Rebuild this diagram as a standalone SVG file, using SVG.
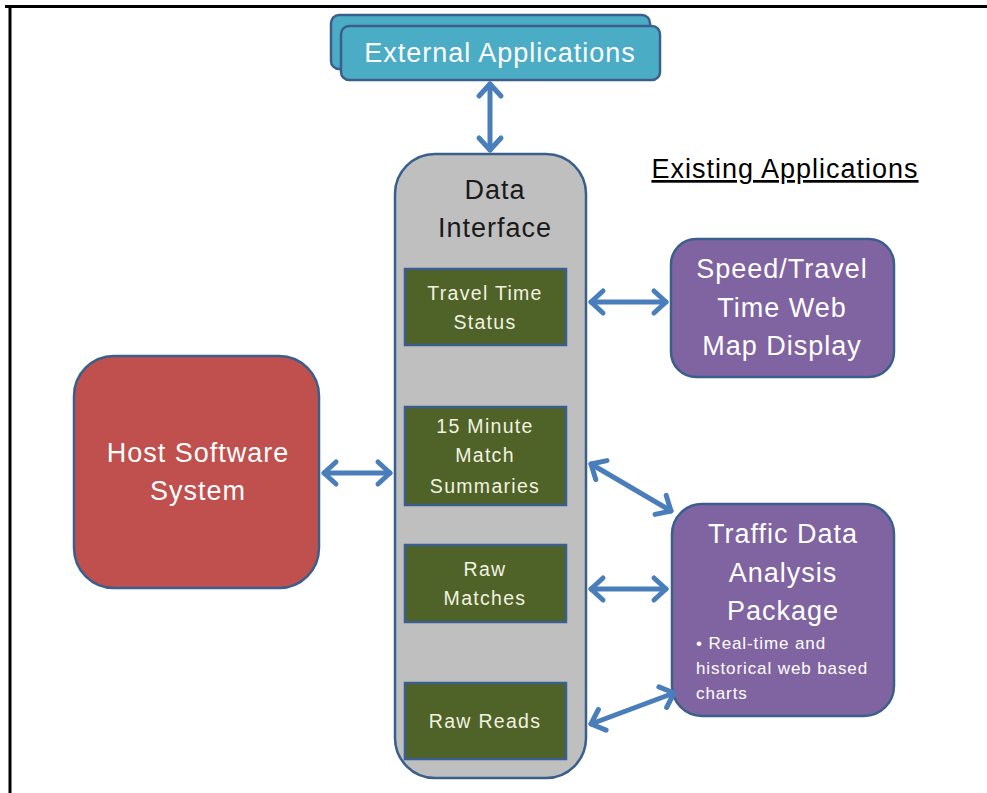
<svg xmlns="http://www.w3.org/2000/svg" width="987" height="793" viewBox="0 0 987 793">
<style>
.t{font-family:"Liberation Sans","DejaVu Sans",sans-serif;text-anchor:middle}
.w{fill:#ffffff}
.big{font-size:27px;letter-spacing:1px}
.sm{font-size:19.5px;letter-spacing:1.3px;fill:#f2f2e0}
.bul{font-size:17px;letter-spacing:0.9px;fill:#ffffff;text-anchor:start}
.box{stroke:#3A5F8C;stroke-width:2.5}
.con{stroke:#4A7EBB;stroke-width:5;fill:none;stroke-linecap:round;marker-start:url(#ah);marker-end:url(#ah)}
</style>
<defs>
<marker id="ah" markerUnits="userSpaceOnUse" viewBox="-16 -14 20 28" markerWidth="20" markerHeight="28" refX="0" refY="0" orient="auto-start-reverse" overflow="visible">
<path d="M-12,-11 L0,0 L-12,11" fill="none" stroke="#4A7EBB" stroke-width="5" stroke-linecap="round" stroke-linejoin="round"/>
</marker>
</defs>
<rect width="987" height="793" fill="#ffffff"/>
<line x1="5" y1="6.5" x2="987" y2="6.5" stroke="#000" stroke-width="3"/>
<line x1="10" y1="5" x2="10" y2="793" stroke="#000" stroke-width="3"/>

<g id="external">
<rect class="box" x="331" y="15" width="319" height="54" rx="8" fill="#4BACC6"/>
<rect class="box" x="341" y="26" width="319" height="54" rx="8" fill="#4BACC6"/>
<text class="t w big" x="500" y="62">External Applications</text>
</g>

<g id="data-interface">
<rect class="box" x="395" y="154" width="191" height="624" rx="40" fill="#BFBFBF"/>
<text class="t big" x="495" y="199" fill="#1a1a1a">Data</text>
<text class="t big" x="495" y="237" fill="#1a1a1a">Interface</text>
</g>

<g id="travel-time-status">
<rect class="box" x="405" y="269" width="161" height="76" fill="#4F6228"/>
<text class="t sm" x="485" y="300">Travel Time</text>
<text class="t sm" x="485" y="329">Status</text>
</g>

<g id="match-summaries">
<rect class="box" x="405" y="407" width="161" height="98" fill="#4F6228"/>
<text class="t sm" x="485" y="433">15 Minute</text>
<text class="t sm" x="485" y="462">Match</text>
<text class="t sm" x="485" y="493">Summaries</text>
</g>

<g id="raw-matches">
<rect class="box" x="405" y="545" width="161" height="77" fill="#4F6228"/>
<text class="t sm" x="485" y="576">Raw</text>
<text class="t sm" x="485" y="605">Matches</text>
</g>

<g id="raw-reads">
<rect class="box" x="405" y="683" width="161" height="76" fill="#4F6228"/>
<text class="t sm" x="485" y="728">Raw Reads</text>
</g>

<g id="host">
<rect class="box" x="74" y="356" width="245" height="232" rx="40" fill="#C0504D"/>
<text class="t w big" x="198" y="462">Host Software</text>
<text class="t w big" x="198" y="500">System</text>
</g>

<g id="speed-map">
<rect class="box" x="671" y="239" width="223" height="138" rx="25" fill="#8064A2"/>
<text class="t w big" x="782" y="278">Speed/Travel</text>
<text class="t w big" x="782" y="317">Time Web</text>
<text class="t w big" x="782" y="355">Map Display</text>
</g>

<g id="traffic-analysis">
<rect class="box" x="672" y="504" width="222" height="212" rx="30" fill="#8064A2"/>
<text class="t w big" x="783" y="543">Traffic Data</text>
<text class="t w big" x="783" y="582">Analysis</text>
<text class="t w big" x="783" y="620">Package</text>
<text class="t bul" x="696" y="649">• Real-time and</text>
<text class="t bul" x="696" y="674">historical web based</text>
<text class="t bul" x="696" y="699">charts</text>
</g>

<g id="existing-label">
<text class="t" x="785" y="178" font-size="27" letter-spacing="1" fill="#000" text-decoration="underline">Existing Applications</text>
</g>

<g id="connectors">
<line class="con" x1="490" y1="84" x2="490" y2="150"/>
<line class="con" x1="324" y1="473" x2="390" y2="473"/>
<line class="con" x1="591" y1="302" x2="666" y2="302"/>
<line class="con" x1="591" y1="464" x2="671" y2="511"/>
<line class="con" x1="591" y1="589" x2="666" y2="589"/>
<line class="con" x1="591" y1="724" x2="674" y2="693"/>
</g>
</svg>
